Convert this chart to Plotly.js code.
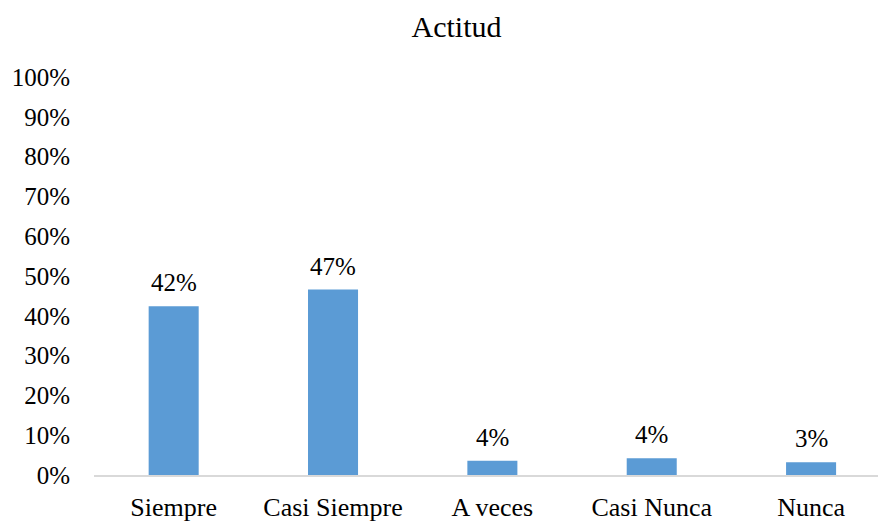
<!DOCTYPE html>
<html>
<head>
<meta charset="utf-8">
<script src="https://cdn.plot.ly/plotly-3.0.1.min.js"></script>
<style>html,body{margin:0;padding:0;background:#fff;}#chart{width:878px;height:522px;}</style>
</head>
<body>
<div id="chart"></div>
<script>
const categories = ["Siempre", "Casi Siempre", "A veces", "Casi Nunca", "Nunca"];
const values = [0.424, 0.466, 0.036, 0.042, 0.032];
const labels = ["42%", "47%", "4%", "4%", "3%"];
const yTickVals = [0, 0.1, 0.2, 0.3, 0.4, 0.5, 0.6, 0.7, 0.8, 0.9, 1.0];
const chartTitle = "Actitud";

const FONT = "Liberation Serif, Times New Roman, serif";

const trace = {
  type: "bar",
  x: categories,
  y: values,
  marker: {color: "#5B9BD5"},
  hoverinfo: "skip"
};

const annotations = categories.map((c, i) => ({
  x: c, y: values[i], xref: "x", yref: "y",
  text: labels[i], showarrow: false,
  yanchor: "bottom", yshift: 8,
  font: {family: FONT, size: 25, color: "#000"}
}));

const layout = {
  width: 878, height: 522,
  margin: {l: 94, r: 0, t: 77, b: 47},
  paper_bgcolor: "#fff", plot_bgcolor: "#fff",
  showlegend: false,
  bargap: 0.686,
  title: {
    text: chartTitle,
    font: {family: FONT, size: 30, color: "#000"},
    xref: "container", x: 0.52, xanchor: "center",
    yref: "container", y: 0.95, yanchor: "middle"
  },
  xaxis: {
    type: "category",
    range: [-0.5, 4.42],
    showgrid: false, zeroline: false,
    showline: true, linecolor: "#d9d9d9", linewidth: 1.5,
    ticks: "",
    ticklabelstandoff: 8,
    tickfont: {family: FONT, size: 26, color: "#000"}
  },
  yaxis: {
    range: [0, 1],
    tickvals: yTickVals,
    tickformat: ".0%",
    showgrid: false, zeroline: false, showline: false,
    ticks: "",
    ticklabelstandoff: 23,
    tickfont: {family: FONT, size: 25, color: "#000"}
  },
  annotations: annotations
};

Plotly.newPlot("chart", [trace], layout, {displayModeBar: false, staticPlot: true});
</script>
</body>
</html>
